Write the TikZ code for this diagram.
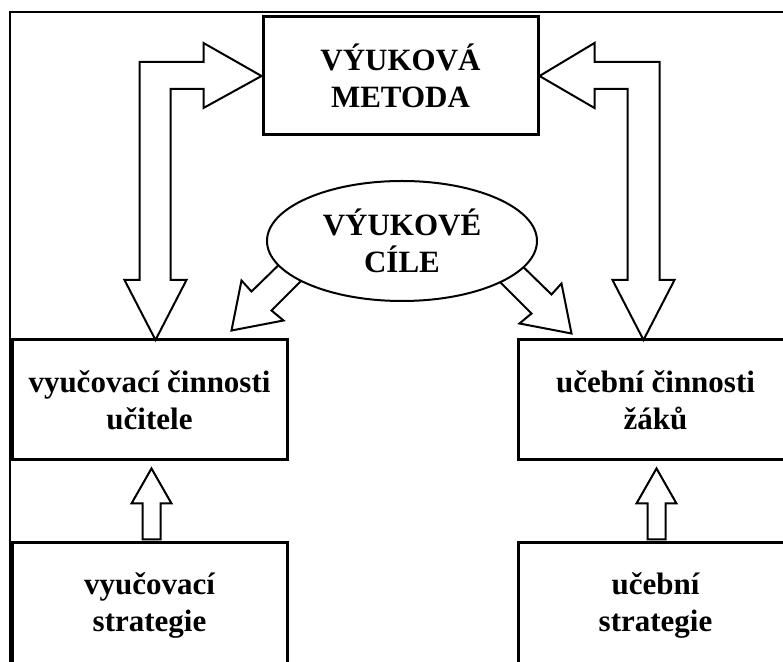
\documentclass[tikz,border=0pt]{standalone}
\usepackage{fontspec}
\setmainfont{Liberation Serif}
\usetikzlibrary{shapes.geometric,calc}

\tikzset{
  box/.style={draw, rectangle, line width=1.5pt, minimum width=137.5pt, minimum height=60pt,
    inner sep=0pt, align=center, font=\fontsize{15.5}{18.5}\selectfont\bfseries},
  goal/.style={draw, ellipse, line width=1pt, fill=white, minimum width=135pt, minimum height=60pt,
    inner sep=0pt, align=center, font=\fontsize{15.5}{18.5}\selectfont\bfseries},
  frameline/.style={draw, line width=1pt},
  blockarrow/.style={draw, line width=1pt, fill=white, line join=miter},
  liftarrow/.pic={\path[blockarrow] (0,0) -- (20,35) -- (9,35) -- (9,71) -- (-9,71) -- (-9,35) -- (-20,35) -- cycle;},
  aimarrow/.pic={\path[blockarrow] (0,0) -- (10,-50) -- (20,-39) -- (60,-78) -- (79,-59) -- (40,-20) -- (52,-10) -- cycle;}
}

\begin{document}
\begin{tikzpicture}[x=0.5pt, y=-0.5pt]
	\useasboundingbox (0,0) rectangle (783,662);
	\clip (0,0) rectangle (783,662);
	\path[frameline] (10,12) rectangle (800,700);

	\node[box, minimum height=59pt] (metoda) at (400.5,76) {VÝUKOVÁ\\METODA};
	\node[box] (ucitel) at (149.5,400) {vyučovací činnosti\\učitele};
	\node[box] (zak) at (655.5,400) {učební činnosti\\žáků};
	\node[box, minimum height=62pt] (vstrat) at (149.5,605) {vyučovací\\strategie};
	\node[box, minimum height=62pt] (ustrat) at (655.5,605) {učební\\strategie};

	% metoda <-> ucitel, metoda <-> zak
	\path[blockarrow] (metoda.west) -- ++(-58,-33) -- ++(0,19) -- ++(-64,0) -- ++(0,218)
		-- ++(-15,0) -- ++(31,60) -- ++(31,-60) -- ++(-16,0) -- ++(0,-191) -- ++(33,0) -- ++(0,19) -- cycle;
	\path[blockarrow] (metoda.east) -- ++(55,-33) -- ++(0,19) -- ++(65,0) -- ++(0,218)
		-- ++(15,0) -- ++(-31,60) -- ++(-31,-60) -- ++(15,0) -- ++(0,-191) -- ++(-33,0) -- ++(0,19) -- cycle;

	% strategie -> cinnosti
	\pic at ($(ucitel.south)+(2,7)$) {liftarrow};
	\pic at ($(zak.south)+(1,7)$) {liftarrow};

	% cile -> cinnosti
	\pic at ($(ucitel.north east)+(-57,-8)$) {aimarrow};
	\pic[xscale=-1] at ($(zak.north west)+(55,-5)$) {aimarrow};

	\node[goal] (cile) at (402,241) {VÝUKOVÉ\\CÍLE};
\end{tikzpicture}
\end{document}
